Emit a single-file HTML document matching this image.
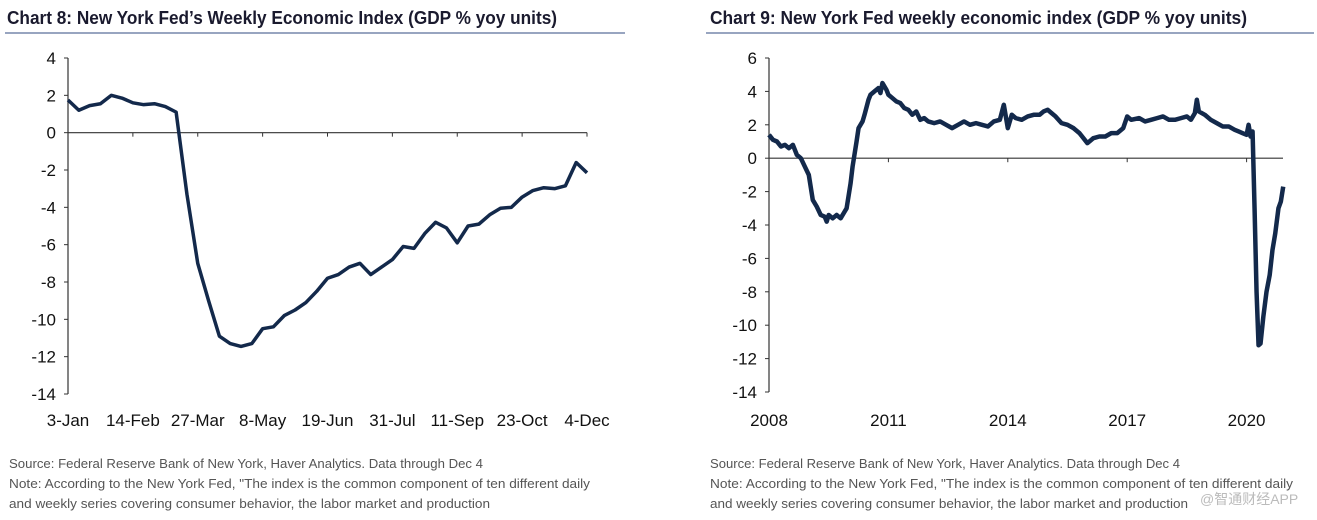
<!DOCTYPE html>
<html><head><meta charset="utf-8"><style>
body{margin:0;background:#fff;width:1317px;height:520px;overflow:hidden;font-family:"Liberation Sans",sans-serif}
svg{display:block}
.t{font-weight:bold;font-size:18px;fill:#1a1a2e}
.tk{font-size:17px;fill:#111}
.src{font-size:13px;fill:#555}
</style></head><body>
<svg id="s" width="1317" height="520">
<text class="t" x="7" y="24" textLength="550" lengthAdjust="spacingAndGlyphs">Chart 8: New York Fed’s Weekly Economic Index (GDP % yoy units)</text>
<line x1="5" y1="33" x2="625" y2="33" stroke="#5a6f9a" stroke-width="1.2"/>
<text class="t" x="710" y="24" textLength="537" lengthAdjust="spacingAndGlyphs">Chart 9: New York Fed weekly economic index (GDP % yoy units)</text>
<line x1="706" y1="33" x2="1314" y2="33" stroke="#5a6f9a" stroke-width="1.2"/>
<g>
<text class="src" x="9" y="468" textLength="474" lengthAdjust="spacingAndGlyphs">Source: Federal Reserve Bank of New York, Haver Analytics. Data through Dec 4</text>
<text class="src" x="9" y="488" textLength="581" lengthAdjust="spacingAndGlyphs">Note: According to the New York Fed, "The index is the common component of ten different daily</text>
<text class="src" x="9" y="508" textLength="481" lengthAdjust="spacingAndGlyphs">and weekly series covering consumer behavior, the labor market and production</text>
</g>
<g>
<text class="src" x="710" y="468" textLength="470" lengthAdjust="spacingAndGlyphs">Source: Federal Reserve Bank of New York, Haver Analytics. Data through Dec 4</text>
<text class="src" x="710" y="488" textLength="583" lengthAdjust="spacingAndGlyphs">Note: According to the New York Fed, "The index is the common component of ten different daily</text>
<text class="src" x="710" y="508" textLength="478" lengthAdjust="spacingAndGlyphs">and weekly series covering consumer behavior, the labor market and production</text>
<text class="src" x="1200" y="504" style="fill:#bbb;font-size:14px;font-family:'Liberation Sans','Noto Sans CJK SC',sans-serif">@智通财经APP</text>
</g>
<g id="c8"></g><g id="c9"></g>
</svg>
<script>
const c8Values=[1.75,1.2,1.45,1.55,2.0,1.85,1.6,1.5,1.55,1.4,1.1,-3.3,-7.0,-9.0,-10.9,-11.3,-11.45,-11.3,-10.5,-10.4,-9.8,-9.5,-9.1,-8.5,-7.8,-7.6,-7.2,-7.0,-7.6,-7.2,-6.8,-6.1,-6.2,-5.4,-4.8,-5.1,-5.9,-5.0,-4.9,-4.4,-4.05,-4.0,-3.45,-3.1,-2.95,-3.0,-2.85,-1.6,-2.15];
const c8XLabels=["3-Jan","14-Feb","27-Mar","8-May","19-Jun","31-Jul","11-Sep","23-Oct","4-Dec"];
const c8YTicks=[4,2,0,-2,-4,-6,-8,-10,-12,-14];
const c9Years=[2008.0,2008.1,2008.2,2008.3,2008.4,2008.5,2008.6,2008.7,2008.8,2008.9,2009.0,2009.1,2009.2,2009.3,2009.4,2009.45,2009.5,2009.6,2009.7,2009.8,2009.9,2009.95,2010.05,2010.1,2010.2,2010.25,2010.35,2010.4,2010.5,2010.55,2010.65,2010.75,2010.8,2010.85,2010.95,2011.0,2011.1,2011.2,2011.3,2011.4,2011.5,2011.6,2011.7,2011.8,2011.9,2012.0,2012.15,2012.3,2012.45,2012.6,2012.75,2012.9,2013.05,2013.2,2013.35,2013.5,2013.65,2013.8,2013.9,2014.0,2014.1,2014.2,2014.35,2014.5,2014.65,2014.8,2014.9,2015.0,2015.1,2015.2,2015.35,2015.5,2015.65,2015.8,2015.9,2016.0,2016.15,2016.3,2016.45,2016.6,2016.75,2016.9,2017.0,2017.1,2017.3,2017.45,2017.6,2017.75,2017.9,2018.05,2018.2,2018.35,2018.5,2018.6,2018.7,2018.75,2018.8,2018.95,2019.1,2019.25,2019.4,2019.55,2019.7,2019.8,2019.9,2020.0,2020.05,2020.1,2020.15,2020.2,2020.25,2020.3,2020.35,2020.42,2020.5,2020.58,2020.65,2020.72,2020.8,2020.86,2020.92];
const c9Values=[1.4,1.1,1.0,0.7,0.8,0.6,0.8,0.2,0.0,-0.5,-1.0,-2.5,-2.9,-3.4,-3.5,-3.8,-3.4,-3.6,-3.4,-3.6,-3.2,-3.0,-1.5,-0.5,1.0,1.8,2.2,2.6,3.5,3.8,4.0,4.2,3.9,4.5,4.1,3.8,3.6,3.4,3.3,3.0,2.9,2.6,2.8,2.3,2.4,2.2,2.1,2.2,2.0,1.8,2.0,2.2,2.0,2.1,2.0,1.9,2.2,2.3,3.2,1.8,2.6,2.4,2.3,2.5,2.6,2.6,2.8,2.9,2.7,2.5,2.1,2.0,1.8,1.5,1.2,0.9,1.2,1.3,1.3,1.5,1.5,1.8,2.5,2.3,2.4,2.2,2.3,2.4,2.5,2.3,2.3,2.4,2.5,2.3,2.7,3.5,2.8,2.6,2.3,2.1,1.9,1.9,1.7,1.6,1.5,1.4,2.0,1.3,1.6,-3,-8,-11.2,-11.1,-9.5,-8,-7,-5.5,-4.5,-3,-2.6,-1.7];
const c9XLabels=["2008","2011","2014","2017","2020"];
const c9YTicks=[6,4,2,0,-2,-4,-6,-8,-10,-12,-14];
const NS="http://www.w3.org/2000/svg";
function mk(p,tag,a){const e=document.createElementNS(NS,tag);for(const k in a)e.setAttribute(k,a[k]);p.appendChild(e);return e;}
(function(){
const g=document.getElementById('c8');
const x0=68,x1=587,yTop=58,yBot=394;
const ymax=c8YTicks[0],ymin=c8YTicks[c8YTicks.length-1];
const X=i=>x0+(x1-x0)*i/(c8Values.length-1);
const Y=v=>yTop+(ymax-v)/(ymax-ymin)*(yBot-yTop);
let e=mk(g,'line',{x1:x0,y1:yTop,x2:x0,y2:yBot,stroke:'#333','stroke-width':1.2});

c8YTicks.forEach(v=>{mk(g,'line',{x1:x0-4,y1:Y(v),x2:x0,y2:Y(v),stroke:'#333'});
 const t=mk(g,'text',{x:x0-12,y:Y(v)+6,'text-anchor':'end',class:'tk'});t.textContent=v;
 });
e=mk(g,'line',{x1:x0,y1:Y(0),x2:x1,y2:Y(0),stroke:'#333','stroke-width':1.2});

c8XLabels.forEach((l,k)=>{const x=X(k*6);mk(g,'line',{x1:x,y1:Y(0),x2:x,y2:Y(0)+4,stroke:'#333'});
 const t=mk(g,'text',{x:x,y:426,'text-anchor':'middle',class:'tk'});t.textContent=l;
 });
const p=mk(g,'polyline',{points:c8Values.map((v,i)=>X(i)+','+Y(v)).join(' '),fill:'none',stroke:'#13294b','stroke-width':3.5,'stroke-linejoin':'round'});

})();
(function(){
const g=document.getElementById('c9');
const x0=769,yTop=58,yBot=392,pxYr=39.8,end=1283;
const ymax=c9YTicks[0],ymin=c9YTicks[c9YTicks.length-1];
const X=yr=>x0+(yr-2008)*pxYr;
const Y=v=>yTop+(ymax-v)/(ymax-ymin)*(yBot-yTop);
let e=mk(g,'line',{x1:x0,y1:yTop,x2:x0,y2:yBot,stroke:'#333','stroke-width':1.2});

c9YTicks.forEach(v=>{mk(g,'line',{x1:x0-4,y1:Y(v),x2:x0,y2:Y(v),stroke:'#333'});
 const t=mk(g,'text',{x:x0-12,y:Y(v)+6,'text-anchor':'end',class:'tk'});t.textContent=v;
 });
e=mk(g,'line',{x1:x0,y1:Y(0),x2:end,y2:Y(0),stroke:'#333','stroke-width':1.2});

c9XLabels.forEach(l=>{const x=X(+l);mk(g,'line',{x1:x,y1:Y(0),x2:x,y2:Y(0)+4,stroke:'#333'});
 const t=mk(g,'text',{x:x,y:426,'text-anchor':'middle',class:'tk'});t.textContent=l;
 });
const p=mk(g,'polyline',{points:c9Values.map((v,i)=>X(c9Years[i])+','+Y(v)).join(' '),fill:'none',stroke:'#13294b','stroke-width':4.5,'stroke-linejoin':'round'});

})();
</script>
</body></html>
